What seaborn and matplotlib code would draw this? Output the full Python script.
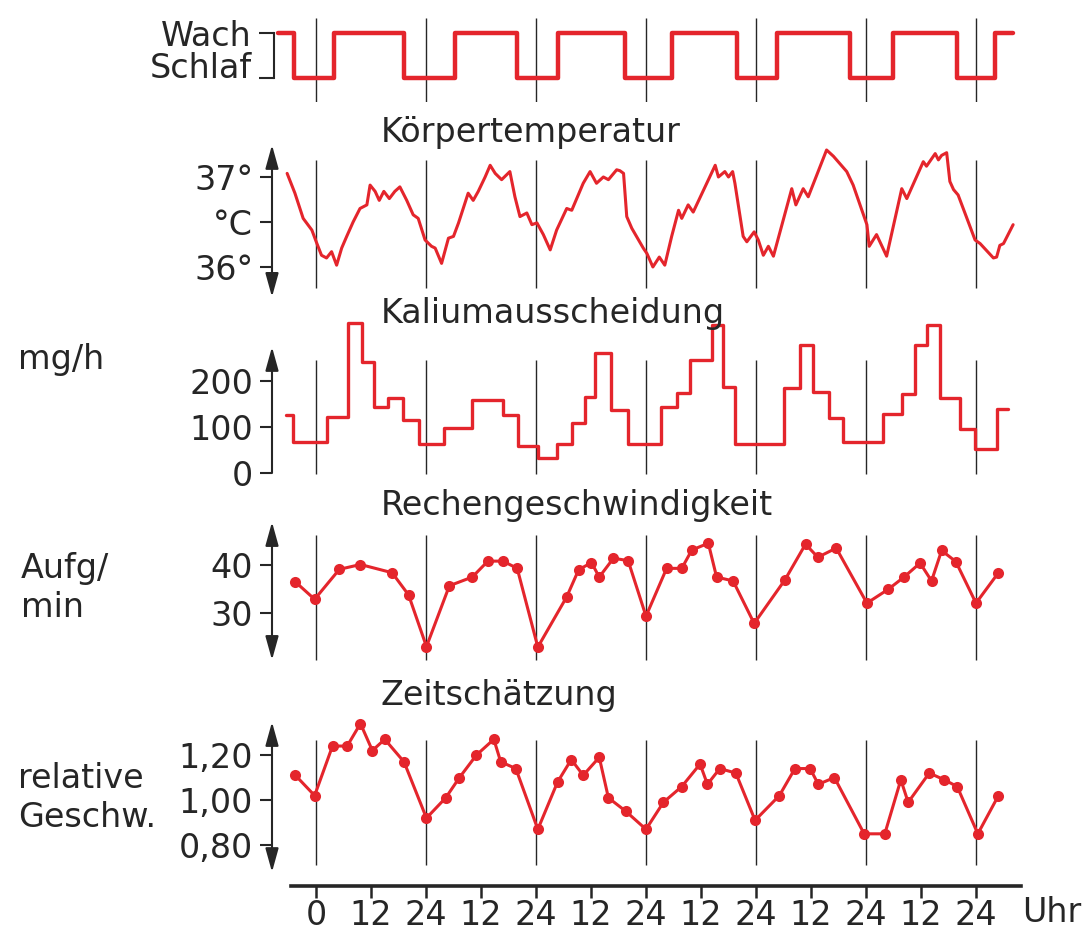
import matplotlib
matplotlib.use("Agg")
import matplotlib.pyplot as plt
import seaborn as sns

# time axis: hours after the first midnight
wake_h = [-8.3, -4.8, 3.9, 19.2, 30.3, 43.9, 52.8, 67.4, 77.7, 91.9,
          100.6, 116.5, 125.9, 139.9, 148.1, 152.1]
wake_state = [1, 0, 1, 0, 1, 0, 1, 0, 1, 0, 1, 0, 1, 0, 1, 1]

temp_h = [-6.3, -4.6, -2.8, -0.9, 0.2, 1.2, 2.3, 3.4, 4.5, 5.6,
          6.7, 8.1, 9.6, 11.1, 11.8, 12.9, 13.8, 14.8, 16.0, 17.2,
          18.3, 19.8, 21.2, 22.3, 23.8, 25.2, 26.0, 27.4, 28.9, 30.0,
          31.1, 33.2, 34.3, 35.4, 36.9, 38.0, 39.1, 40.5, 42.3, 43.4,
          44.5, 46.0, 47.1, 48.2, 49.6, 51.1, 52.5, 54.7, 55.8, 58.3,
          59.8, 61.2, 62.7, 63.8, 65.6, 66.3, 67.1, 67.8, 68.9, 71.4,
          72.2, 73.5, 74.9, 76.1, 77.6, 79.1, 79.8, 81.2, 82.3, 87.1,
          87.8, 89.2, 90.0, 90.9, 91.4, 93.2, 94.0, 95.6, 96.5, 97.6,
          98.7, 99.8, 103.8, 104.7, 106.3, 107.4, 111.4, 112.9, 115.8, 117.2,
          120.2, 120.7, 122.3, 124.5, 127.8, 128.9, 132.5, 133.2, 135.1, 135.8,
          136.5, 137.6, 138.3, 139.1, 140.1, 143.8, 144.9, 147.8, 148.5, 149.2,
          150.0, 152.1]
temp_c = [37.04, 36.82, 36.54, 36.41, 36.26, 36.13, 36.10, 36.17, 36.02, 36.21,
          36.34, 36.50, 36.65, 36.69, 36.91, 36.84, 36.74, 36.84, 36.76, 36.84,
          36.89, 36.74, 36.58, 36.54, 36.30, 36.23, 36.21, 36.04, 36.32, 36.34,
          36.49, 36.82, 36.74, 36.84, 37.00, 37.13, 37.04, 36.97, 37.06, 36.78,
          36.56, 36.60, 36.47, 36.49, 36.36, 36.19, 36.41, 36.65, 36.63, 36.93,
          37.06, 36.93, 37.00, 36.97, 37.08, 37.07, 37.04, 36.56, 36.43, 36.21,
          36.15, 36.00, 36.11, 36.02, 36.34, 36.63, 36.54, 36.69, 36.61, 37.13,
          37.00, 37.06, 37.00, 37.06, 36.93, 36.34, 36.28, 36.39, 36.30, 36.13,
          36.23, 36.12, 36.87, 36.69, 36.87, 36.78, 37.30, 37.23, 37.06, 36.91,
          36.47, 36.23, 36.36, 36.12, 36.87, 36.76, 37.17, 37.12, 37.26, 37.19,
          37.24, 37.27, 36.95, 36.86, 36.80, 36.30, 36.26, 36.10, 36.11, 36.24,
          36.26, 36.47]

kal_h = [-6.5, -5.0, 2.3, 6.9, 10.0, 12.6, 15.6, 19.0, 22.5, 28.0,
         34.1, 40.7, 44.1, 48.5, 52.5, 55.8, 58.7, 60.9, 64.4, 68.1,
         75.3, 78.7, 81.6, 86.3, 88.9, 91.4, 102.0, 105.6, 108.5, 112.0,
         115.0, 123.8, 127.8, 130.7, 133.2, 136.1, 140.4, 143.8, 148.5, 151.0]
kal_mg = [126, 68, 122, 327, 242, 143, 162, 115, 63, 97,
          159, 126, 59, 32, 62, 108, 166, 260, 136, 64,
          144, 173, 246, 322, 186, 64, 184, 278, 175, 119,
          68, 128, 171, 278, 322, 162, 95, 52, 139, 139]

rech_h = [-4.5, -0.3, 5.1, 9.7, 16.6, 20.2, 24.1, 29.1, 34.1, 37.5,
          40.8, 43.9, 48.4, 54.7, 57.3, 60.1, 61.8, 64.9, 68.1, 72.0,
          76.5, 79.8, 82.0, 85.6, 87.4, 91.0, 95.6, 102.3, 106.8, 109.5,
          113.5, 120.2, 124.9, 128.3, 131.8, 134.3, 136.5, 139.6, 144.0, 148.9]
rech_aufg = [36.5, 32.9, 39.1, 40.1, 38.4, 33.8, 23.1, 35.7, 37.5, 40.8,
             40.8, 39.3, 23.0, 33.4, 39.0, 40.5, 37.5, 41.4, 40.9, 29.4,
             39.3, 39.3, 43.1, 44.5, 37.5, 36.7, 27.9, 36.9, 44.3, 41.6,
             43.5, 32.1, 35.0, 37.5, 40.4, 36.7, 43.0, 40.7, 32.1, 38.4]

zeit_h = [-4.5, -0.3, 3.6, 6.8, 9.7, 12.3, 15.0, 19.2, 24.1, 28.3,
          31.3, 35.0, 38.8, 40.3, 43.6, 48.4, 52.7, 55.7, 58.3, 61.8,
          63.8, 67.6, 72.0, 75.8, 79.8, 83.8, 85.4, 88.1, 91.6, 95.8,
          101.1, 104.5, 107.8, 109.6, 113.1, 119.6, 124.1, 127.6, 129.2, 133.8,
          137.1, 139.9, 144.4, 148.9]
zeit_rel = [1.11, 1.02, 1.24, 1.24, 1.34, 1.22, 1.27, 1.17, 0.92, 1.01,
            1.10, 1.20, 1.27, 1.17, 1.14, 0.87, 1.08, 1.18, 1.11, 1.19,
            1.01, 0.95, 0.87, 0.99, 1.06, 1.16, 1.07, 1.14, 1.12, 0.91,
            1.02, 1.14, 1.14, 1.07, 1.10, 0.85, 0.85, 1.09, 0.99, 1.12,
            1.09, 1.06, 0.85, 1.02]

midnights = [0, 24, 48, 72, 96, 120, 144]
hour_ticks = list(range(0, 145, 12))
hour_labels = ["0"] + ["12" if h % 24 else "24" for h in hour_ticks[1:]]

RED = "#e4252c"
INK = "#262626"
FS = 24

# layout in pixels of the 1082 x 944 canvas
W, H = 1082, 944
X0, X1 = 270, 1030
HPP = 24 / 110                      # hours per pixel
XLIM = ((X0 - 316) * HPP, (X1 - 316) * HPP)
AX_X = (272 - 316) * HPP            # where the value arrows stand

sns.set_theme(style="white")
plt.rcParams["font.family"] = ["DejaVu Sans"]
plt.rcParams["text.color"] = INK
plt.rcParams["xtick.bottom"] = True
plt.rcParams["ytick.left"] = True

fig = plt.figure(figsize=(W / 100, H / 100), dpi=100)


def add_panel(top, bottom, ylim):
    ax = fig.add_axes([X0 / W, 1 - bottom / H, (X1 - X0) / W, (bottom - top) / H])
    ax.set_facecolor("none")
    ax.set_xlim(XLIM)
    ax.set_ylim(ylim)
    ax.set_xticks([])
    for side in ["top", "right", "bottom"]:
        ax.spines[side].set_visible(False)
    ax.spines["left"].set_position(("data", AX_X))
    return ax


def value_axis(ax, ticks, labels, lo, hi, style="<|-|>"):
    ax.spines["left"].set_visible(False)
    ax.set_yticks(ticks, labels)
    ax.tick_params(axis="y", left=True, direction="out", length=8.6, width=1.5,
                   pad=5, labelsize=FS, colors=INK)
    ax.annotate("", xy=(AX_X, hi), xytext=(AX_X, lo), annotation_clip=False,
                arrowprops=dict(arrowstyle=style + ",head_length=0.9,head_width=0.25",
                                mutation_scale=16, lw=1.5, color=INK,
                                shrinkA=0, shrinkB=0))


def midnight_lines(ax, lo, hi):
    ax.vlines(midnights, lo, hi, color=INK, lw=1.0, zorder=1)


# Wach / Schlaf
ax = add_panel(15, 102, (-0.527, 1.385))
ax.spines["left"].set_position(("data", (274 - 316) * HPP))
ax.spines["left"].set_bounds(0, 1)
ax.spines["left"].set_linewidth(1.5)
ax.spines["left"].set_color(INK)
ax.set_yticks([0, 1], ["Schlaf", "Wach"])
ax.tick_params(axis="y", left=True, direction="out", length=11, width=1.5,
               pad=5, labelsize=FS, colors=INK)
ax.get_yticklabels()[0].set_va("baseline")
midnight_lines(ax, -0.527, 1.32)
sns.lineplot(x=wake_h, y=wake_state, ax=ax, color=RED, lw=3.2,
             drawstyle="steps-post", estimator=None, sort=False)

# Körpertemperatur
ax = add_panel(140, 300, (35.633, 37.411))
value_axis(ax, [36, 36.5, 37], ["36°", "°C", "37°"], 35.667, 37.356)
midnight_lines(ax, 35.77, 37.19)
sns.lineplot(x=temp_h, y=temp_c, ax=ax, color=RED, lw=2.2,
             estimator=None, sort=False)

# Kaliumausscheidung
ax = add_panel(320, 478, (-10.9, 332.6))
value_axis(ax, [0, 100, 200], ["0", "100", "200"], 0, 274, style="-|>")
midnight_lines(ax, -2, 246)
sns.lineplot(x=kal_h, y=kal_mg, ax=ax, color=RED, lw=2.4,
             drawstyle="steps-post", estimator=None, sort=False)

# Rechengeschwindigkeit
ax = add_panel(515, 668, (18.67, 50.35))
value_axis(ax, [30, 40], ["30", "40"], 20.33, 48.9)
midnight_lines(ax, 20.3, 46.2)
sns.lineplot(x=rech_h, y=rech_aufg, ax=ax, color=RED, lw=2.2, marker="o",
             markersize=8, markeredgewidth=0, estimator=None, sort=False)

# Zeitschätzung
ax = add_panel(715, 875, (0.667, 1.378))
value_axis(ax, [0.8, 1.0, 1.2], ["0,80", "1,00", "1,20"], 0.68, 1.347)
midnight_lines(ax, 0.711, 1.267)
sns.lineplot(x=zeit_h, y=zeit_rel, ax=ax, color=RED, lw=2.2, marker="o",
             markersize=8, markeredgewidth=0, estimator=None, sort=False)

# common time axis
ax = fig.add_axes([X0 / W, 1 - 886 / H, (X1 - X0) / W, 16 / H])
ax.set_facecolor("none")
ax.set_xlim(XLIM)
ax.set_yticks([])
for side in ["top", "right", "left"]:
    ax.spines[side].set_visible(False)
ax.spines["bottom"].set_linewidth(2.6)
ax.spines["bottom"].set_color(INK)
ax.spines["bottom"].set_bounds((291 - 316) * HPP, (1021 - 316) * HPP)
ax.xaxis.set_ticks_position("bottom")
ax.set_xticks(hour_ticks, hour_labels)
ax.tick_params(axis="x", which="major", bottom=True, direction="out",
               length=8.5, width=1.8, pad=1, labelsize=FS, colors=INK)

# texts
titles = [("Körpertemperatur", 142), ("Kaliumausscheidung", 323),
          ("Rechengeschwindigkeit", 515), ("Zeitschätzung", 705)]
for text, base in titles:
    fig.text(381 / W, 1 - base / H, text, fontsize=FS, va="baseline", ha="left")

side_labels = [("mg/h", 18, 369), ("Aufg/", 21, 578), ("min", 21, 617),
               ("relative", 18, 788), ("Geschw.", 18, 827)]
for text, x, base in side_labels:
    fig.text(x / W, 1 - base / H, text, fontsize=FS, va="baseline", ha="left")

fig.text(1022 / W, 1 - 922 / H, "Uhr", fontsize=FS, va="baseline", ha="left")

fig.savefig("out.png", dpi=100, facecolor="white")
